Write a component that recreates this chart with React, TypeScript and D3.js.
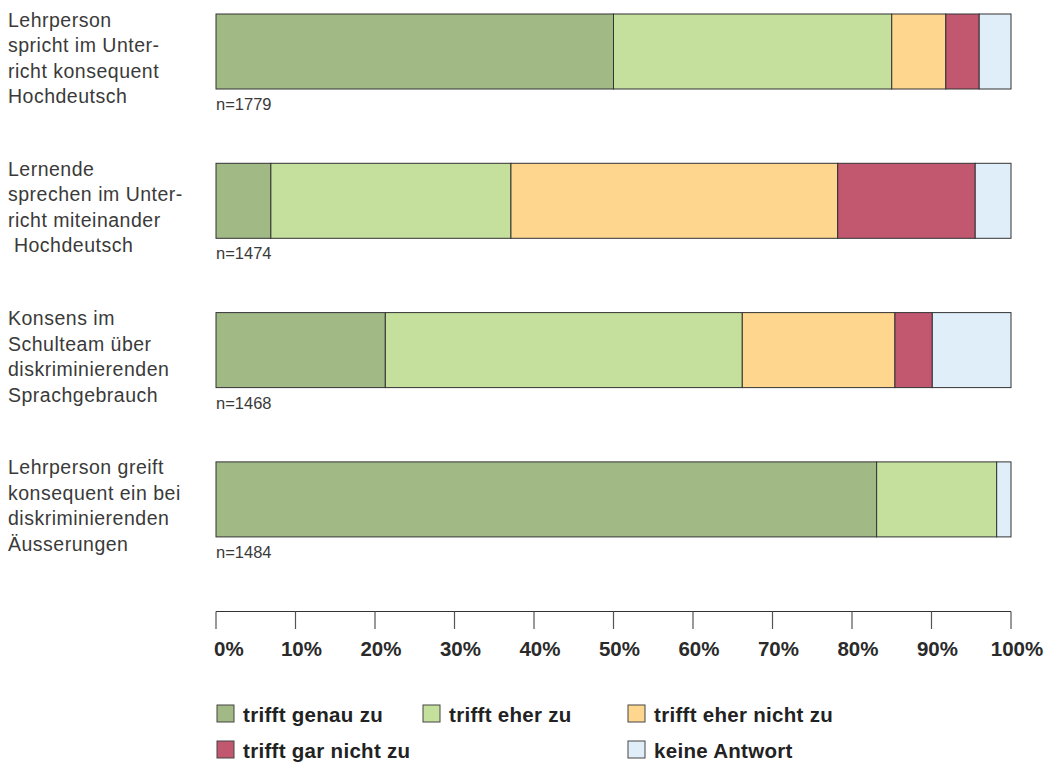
import React from "react";
import * as d3 from "d3";

const categories: string[][] = [
  ["Lehrperson", "spricht im Unter-", "richt konsequent", "Hochdeutsch"],
  ["Lernende", "sprechen im Unter-", "richt miteinander", " Hochdeutsch"],
  ["Konsens im", "Schulteam über", "diskriminierenden", "Sprachgebrauch"],
  ["Lehrperson greift", "konsequent ein bei", "diskriminierenden", "Äusserungen"],
];
const sampleSizes = ["n=1779", "n=1474", "n=1468", "n=1484"];
const seriesNames = ["trifft genau zu", "trifft eher zu", "trifft eher nicht zu", "trifft gar nicht zu", "keine Antwort"];
const genau = [50.0, 6.9, 21.3, 83.1];
const eher = [35.0, 30.2, 44.9, 15.1];
const eherNicht = [6.8, 41.1, 19.2, 0];
const garNicht = [4.2, 17.3, 4.7, 0];
const keine = [4.0, 4.5, 9.9, 1.8];
const colors = ["#a1b985", "#c5df9d", "#fed68e", "#c25770", "#e0eefa"];
const ticks = [0, 10, 20, 30, 40, 50, 60, 70, 80, 90, 100];

const legendPos = [
  { x: 217, y: 705 },
  { x: 423, y: 705 },
  { x: 628, y: 705 },
  { x: 217, y: 741 },
  { x: 628, y: 741 },
];

export default function App() {
  const W = 1048, H = 763;
  const x = d3.scaleLinear().domain([0, 100]).range([216, 1011]);
  const bh = 75;
  const yTop = (i: number) => 14 + i * 149.3;
  const series = [genau, eher, eherNicht, garNicht, keine];
  const rows = categories.map((_, i) => {
    const obj: any = { i };
    seriesNames.forEach((s, k) => (obj[s] = series[k][i]));
    return obj;
  });
  const stacked = d3.stack<any>().keys(seriesNames)(rows);
  const font = "'Liberation Sans', Arial, Helvetica, sans-serif";
  return (
    <svg width={W} height={H} style={{ position: "absolute", left: 0, top: 0, display: "block" }}>
      {categories.map((lines, i) => (
        <g key={i}>
          {lines.map((l, j) => (
            <text key={j} x={8} y={yTop(i) + 12.5 + j * 25.5} fontFamily={font} fontSize={19.5} letterSpacing={0.5} fill="#3a3a3a" style={{ whiteSpace: "pre" }}>
              {l}
            </text>
          ))}
          <text x={216} y={yTop(i) + 96} fontFamily={font} fontSize={16.5} fill="#3a3a3a">
            {sampleSizes[i]}
          </text>
        </g>
      ))}
      {stacked.map((s, k) =>
        s.map((d, i) =>
          d[1] - d[0] > 0 ? (
            <rect
              key={k + "-" + i}
              x={x(d[0])}
              y={yTop(i)}
              width={x(d[1]) - x(d[0])}
              height={bh}
              fill={colors[k]}
              stroke="#333"
              strokeWidth={1}
            />
          ) : null
        )
      )}
      <line x1={x(0)} x2={x(100)} y1={611.5} y2={611.5} stroke="#333" strokeWidth={1.2} />
      {ticks.map((t, i) => (
        <g key={t}>
          <line x1={x(t)} x2={x(t)} y1={611.5} y2={629} stroke="#555" strokeWidth={1.2} />
          <text
            x={i === 0 ? 214 : x(t) + 6}
            y={656}
            textAnchor={i === 0 ? "start" : "middle"}
            fontFamily={font}
            fontWeight="bold"
            fontSize={20.5}
            fill="#2a2a2a"
          >
            {t}%
          </text>
        </g>
      ))}
      {seriesNames.map((s, k) => (
        <g key={s}>
          <rect x={legendPos[k].x} y={legendPos[k].y} width={17} height={17} fill={colors[k]} stroke="#444" strokeWidth={1} />
          <text x={legendPos[k].x + 26} y={legendPos[k].y + 17} fontFamily={font} fontWeight="bold" fontSize={20.5} letterSpacing={0.3} fill="#222">
            {s}
          </text>
        </g>
      ))}
    </svg>
  );
}
